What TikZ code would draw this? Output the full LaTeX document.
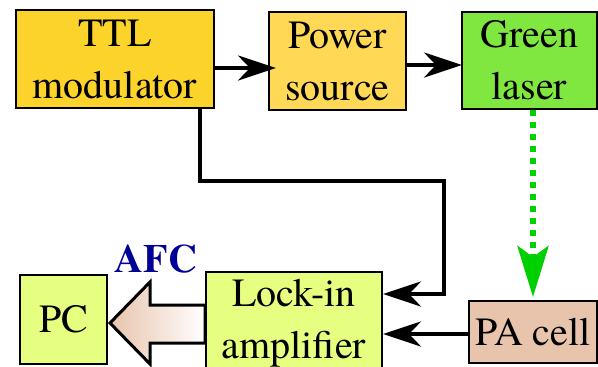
\documentclass[tikz,border=0pt]{standalone}
\usepackage{fontspec}
\setmainfont{TeX Gyre Termes}
\usetikzlibrary{arrows.meta,calc}
\definecolor{ttlc}{RGB}{252,211,42}
\definecolor{pwc}{RGB}{255,217,85}
\definecolor{grc}{RGB}{128,230,64}
\definecolor{lkc}{RGB}{230,255,128}
\definecolor{pac}{RGB}{232,196,172}
\definecolor{afcc}{RGB}{0,0,150}
\definecolor{lasc}{RGB}{0,208,0}
\begin{document}
\begin{tikzpicture}[x=1pt,y=-1pt,
  box/.style={draw=black,line width=2pt,align=center,inner sep=0pt,
    font=\rmfamily\fontsize{40}{52}\selectfont},
  conn/.style={line width=4pt,line join=miter,
    -{Stealth[length=38pt,width=25pt,inset=12pt]}},
  laser/.style={draw=lasc,line width=6pt,dash pattern=on 6pt off 6pt,
    -{Stealth[length=51pt,width=31pt,inset=11pt,fill=lasc,color=lasc]}},
  blockarrow/.style={left color=pac,right color=white,draw=black,
    line width=3pt,line join=miter}]
\useasboundingbox (0,0) rectangle (598,367);
\clip (0,0) rectangle (598,367);
% boxes
\node[box,fill=ttlc,minimum width=198pt,minimum height=98pt] (ttl) at (115,59) {TTL\\modulator};
\node[box,fill=pwc,minimum width=137pt,minimum height=98pt] (pw) at (337.5,61) {Power\\source};
\node[box,fill=grc,minimum width=135pt,minimum height=97pt] (green) at (529.5,60) {Green\\laser};
\node[box,fill=lkc,minimum width=176pt,minimum height=102pt] (lock) at (294,323) {Lock-in\\amplifier};
\node[box,fill=lkc,minimum width=87pt,minimum height=89pt] (pc) at (63.5,319.5) {PC};
\node[box,fill=pac,minimum width=128pt,minimum height=62pt] (pa) at (533,332) {PA cell};
% helper coordinates
\coordinate (r1) at (0,68);
\coordinate (r2) at (0,65);
\coordinate (b1) at (200,181);
\coordinate (b2) at (444,181);
\coordinate (b3) at (444,294);
\coordinate (r3) at (0,334);
% connectors
\draw[conn] (ttl.east |- r1) -- ($(pw.west |- r1)+(8,0)$);
\draw[conn] (pw.east |- r2) -- ($(green.west |- r2)+(1,0)$);
\draw[conn] (ttl.south -| b1) -- (b1) -- (b2) -- (b3) -- (lock.east |- b3);
\draw[conn] (pa.west |- r3) -- (lock.east |- r3);
\draw[laser] (green.south -| pa.north) -- ($(pa.north)+(0,-3)$);
% AFC block arrow
\shadedraw[blockarrow] (lock.west |- 0,305) -- (150,305) -- (150,282) -- (110,323)
  -- (150,364) -- (150,343) -- (lock.west |- 0,343) -- cycle;
\node[font=\rmfamily\bfseries\fontsize{40}{48}\selectfont,text=afcc,anchor=base] (afc) at (156,272) {AFC};
\end{tikzpicture}
\end{document}
